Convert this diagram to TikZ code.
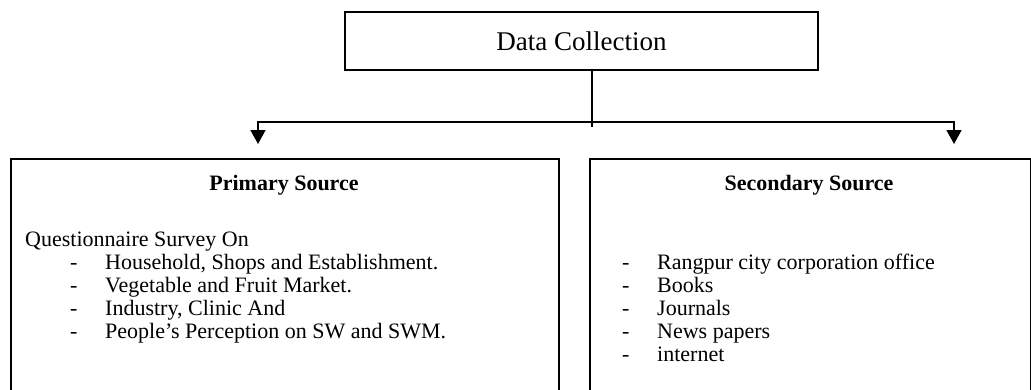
\documentclass[tikz,border=0pt]{standalone}
\usepackage{fontspec}
\setmainfont{Liberation Serif}
\usetikzlibrary{arrows.meta, positioning}

\tikzset{
	topbox/.style={draw, line width=2.4pt, minimum width=473, minimum height=58, inner sep=0pt},
	srcbox/.style={draw, line width=1.6pt, minimum height=262, inner sep=0pt, anchor=north west},
	link/.style={line width=1.6pt},
	drop/.style={link, -{Triangle[width=15pt, length=14pt]}},
	boxtext/.style={font=\fontsize{22}{23}\selectfont, inner sep=0pt, text height=15pt, text depth=5pt},
	itemtext/.style={boxtext, anchor=west}
}

\begin{document}
\begin{tikzpicture}[x=1pt, y=-1pt]

	\useasboundingbox (0,0) rectangle (1031,389);

	\node[topbox] (collect) at (581.5,41) {\fontsize{27}{30}\selectfont Data Collection};
	\node[srcbox, minimum width=548] (primary) at (10,158) {};
	\node[srcbox, minimum width=441] (secondary) at (589,158) {};

	%\draw[help lines] (0,0) grid[step=50] (1031,389);
	\coordinate (split) at (592,122);
	\coordinate (stub) at (592,127);
	\coordinate (tipL) at (258,144);
	\coordinate (tipR) at (954,144);

	\draw[link] (collect.south -| split) -- (stub);
	\draw[drop] (split) -| (tipL);
	\draw[drop] (split) -| (tipR);

	% primary source
	\node[boxtext] (ptitle) at (284,185) {\textbf{Primary Source}};
	\node[itemtext] (pq) at (25,241) {Questionnaire Survey On};
	\node[itemtext] (pd1) at (70,264) {-};
	\node[itemtext] (pi1) at (105,264) {Household, Shops and Establishment.};
	\node[itemtext] (pd2) at (70,287) {-};
	\node[itemtext] (pi2) at (105,287) {Vegetable and Fruit Market.};
	\node[itemtext] (pd3) at (70,310) {-};
	\node[itemtext] (pi3) at (105,310) {Industry, Clinic And};
	\node[itemtext] (pd4) at (70,333) {-};
	\node[itemtext] (pi4) at (105,333) {People’s Perception on SW and SWM.};

	% secondary source
	\node[boxtext] (stitle) at (809,185) {\textbf{Secondary Source}};
	\node[itemtext] (sd1) at (622,264) {-};
	\node[itemtext] (si1) at (657,264) {Rangpur city corporation office};
	\node[itemtext] (sd2) at (622,287) {-};
	\node[itemtext] (si2) at (657,287) {Books};
	\node[itemtext] (sd3) at (622,310) {-};
	\node[itemtext] (si3) at (657,310) {Journals};
	\node[itemtext] (sd4) at (622,333) {-};
	\node[itemtext] (si4) at (657,333) {News papers};
	\node[itemtext] (sd5) at (622,356) {-};
	\node[itemtext] (si5) at (657,356) {internet};

\end{tikzpicture}
\end{document}
